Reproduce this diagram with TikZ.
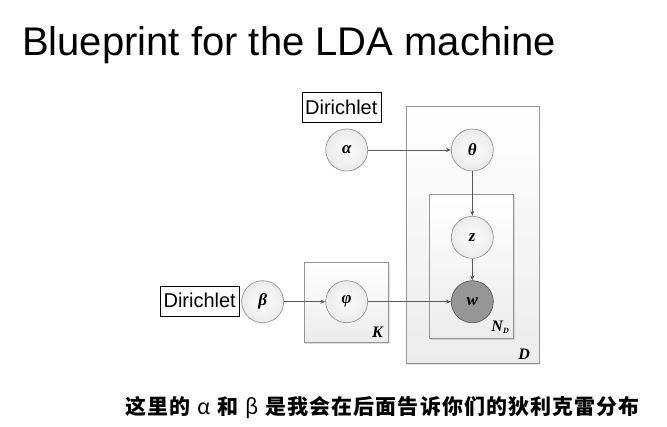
\documentclass[tikz,border=0pt]{standalone}
\usepackage{fontspec}
\usepackage{tikz}
\usetikzlibrary{arrows.meta,positioning,shadows}
\setmainfont{Liberation Sans}
\newfontfamily\tnrfont{Liberation Serif}
\newfontfamily\cjkfont[LetterSpace=5]{Noto Sans CJK SC}
\definecolor{ldaEdge}{RGB}{90,90,90}
\definecolor{ldaBorder}{RGB}{150,150,150}
\definecolor{ldaPlate}{RGB}{236,236,236}
\definecolor{ldaObs}{RGB}{150,150,150}
\tikzset{
    latentvar/.style={circle, draw=ldaBorder, line width=0.7pt, minimum size=42pt, inner sep=0pt,
        shading=radial, inner color=white, outer color=gray!16,
        font=\tnrfont\bfseries\itshape\fontsize{17}{17}\selectfont},
    obsvar/.style={circle, draw=ldaEdge, line width=0.7pt, minimum size=42pt, inner sep=0pt,
        fill=ldaObs, font=\tnrfont\bfseries\itshape\fontsize{17}{17}\selectfont},
    plate/.style={draw=ldaBorder, line width=0.7pt, top color=white, bottom color=ldaPlate,
        drop shadow={shadow xshift=1.2pt, shadow yshift=-1.2pt, opacity=0.25}},
    platelabel/.style={inner sep=0pt, font=\tnrfont\bfseries\itshape\fontsize{16}{16}\selectfont},
    priorbox/.style={draw=black, line width=0.6pt, fill=white, inner sep=0pt,
        minimum width=79pt, minimum height=30pt, font=\fontsize{20}{20}\selectfont},
    edge/.style={draw=ldaEdge, line width=0.6pt, -{Stealth[length=5pt,width=4pt]}}
}

\begin{document}
\begin{tikzpicture}[x=1pt,y=-1pt]
    \useasboundingbox[fill=white] (0,0) rectangle (667,426);

    % title and note
    \node[anchor=base west, inner sep=0pt, font=\fontsize{40}{40}\selectfont] (title) at (22,55) {Blueprint for the LDA machine};
    \node[anchor=base west, inner sep=0pt, font=\cjkfont\bfseries\fontsize{21}{21}\selectfont] (note) at (125,414)
        {这里的\hspace{7pt}{\mdseries α}\hspace{7pt}和\hspace{7pt}{\mdseries β}\hspace{7pt}是我会在后面告诉你们的狄利克雷分布};

    % plates
    \draw[plate] (406.7,106) rectangle (539,363.3);
    \draw[plate] (429.3,194) rectangle (513.3,338.3);
    \draw[plate] (304,262.7) rectangle (388.3,342.3);
    \node[platelabel, anchor=south east] (labD) at (530,360) {D};
    \node[platelabel, anchor=south east] (labN) at (509,334) {N\raisebox{-0.3ex}{\fontsize{8}{8}\selectfont D}};
    \node[platelabel, anchor=south east] (labK) at (383,338) {K};

    % variables
    \node[latentvar] (alpha) at (346.7,150) {α};
    \node[latentvar] (theta) at (472.3,150) {θ};
    \node[latentvar] (z) at (472.3,237.3) {z};
    \node[obsvar] (w) at (472.3,301.7) {w};
    \node[latentvar] (phi) at (346.7,301.7) {φ};
    \node[latentvar] (beta) at (262.7,301.7) {β};

    % priors
    \node[priorbox] (dirA) at (341.3,107.5) {Dirichlet};
    \node[priorbox] (dirB) at (199.7,300.8) {Dirichlet};

    % edges
    \draw[edge] (alpha) -- (theta);
    \draw[edge] (theta) -- (z);
    \draw[edge] (z) -- (w);
    \draw[edge] (beta) -- (phi);
    \draw[edge] (phi) -- (w);
\end{tikzpicture}
\end{document}
